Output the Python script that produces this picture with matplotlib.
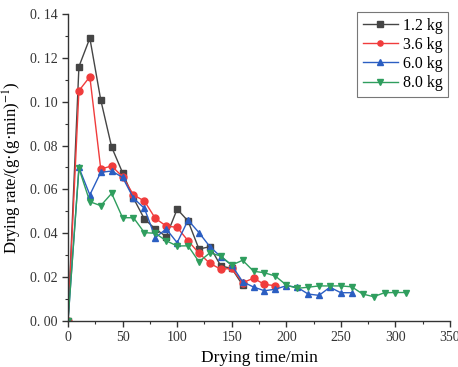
import matplotlib
matplotlib.use("Agg")
import matplotlib.pyplot as plt
from matplotlib.ticker import MultipleLocator, FuncFormatter

plt.rcParams['font.family'] = ['Liberation Serif', 'DejaVu Serif']
plt.rcParams['mathtext.fontset'] = 'stix'

t_12 = [0, 10, 20, 30, 40, 50, 60, 70, 80, 90, 100, 110, 120, 130, 140, 150, 160]
r_12 = [0.0, 0.116, 0.129, 0.1008, 0.0793, 0.0676, 0.056, 0.0465, 0.042, 0.0385,
        0.051, 0.0456, 0.0328, 0.0339, 0.0251, 0.024, 0.0164]

t_36 = [0, 10, 20, 30, 40, 50, 60, 70, 80, 90, 100, 110, 120, 130, 140, 150, 160, 170, 180, 190]
r_36 = [0.0, 0.105, 0.1114, 0.0693, 0.0707, 0.0658, 0.0575, 0.0547, 0.0468, 0.0433,
        0.0427, 0.0366, 0.0309, 0.0263, 0.0236, 0.024, 0.0175, 0.0195, 0.0167, 0.0161]

t_60 = [0, 10, 20, 30, 40, 50, 60, 70, 80, 90, 100, 110, 120, 130, 140, 150, 160, 170,
        180, 190, 200, 210, 220, 230, 240, 250, 260]
r_60 = [0.0, 0.070, 0.0575, 0.0678, 0.0684, 0.0655, 0.056, 0.0514, 0.038, 0.042,
        0.0357, 0.046, 0.0403, 0.0339, 0.0293, 0.0255, 0.0179, 0.0155, 0.0138, 0.0145,
        0.0161, 0.0154, 0.0123, 0.0117, 0.0154, 0.0129, 0.0129]

t_80 = [0, 10, 20, 30, 40, 50, 60, 70, 80, 90, 100, 110, 120, 130, 140, 150, 160, 170,
        180, 190, 200, 210, 220, 230, 240, 250, 260, 270, 280, 290, 300, 310]
r_80 = [0.0, 0.0696, 0.0544, 0.0526, 0.0582, 0.0471, 0.0471, 0.0403, 0.040, 0.0366,
        0.0342, 0.0343, 0.027, 0.0311, 0.0296, 0.0255, 0.0277, 0.0227, 0.022, 0.0205,
        0.0164, 0.0149, 0.0154, 0.016, 0.016, 0.016, 0.0156, 0.0123, 0.0111, 0.0129,
        0.013, 0.013]

labels = ['1.2 kg', '3.6 kg', '6.0 kg', '8.0 kg']
colors = ['#454545', '#f03c3c', '#2b5ec2', '#2f9e5e']
markers = ['s', 'o', '^', 'v']

fig = plt.figure(figsize=(4.58, 3.67), dpi=100)
ax = fig.add_axes([0.1485, 0.1253, 0.834, 0.8366])

series = [(t_12, r_12), (t_36, r_36), (t_60, r_60), (t_80, r_80)]
for (t, r), lab, c, m in zip(series, labels, colors, markers):
    ax.plot(t, r, color=c, marker=m, markersize=5.0, linewidth=1.0, label=lab)

ax.set_xlim(0, 350)
ax.set_ylim(0, 0.14)
ax.xaxis.set_major_locator(MultipleLocator(50))
ax.xaxis.set_minor_locator(MultipleLocator(25))
ax.yaxis.set_major_locator(MultipleLocator(0.02))
ax.yaxis.set_minor_locator(MultipleLocator(0.01))
ax.yaxis.set_major_formatter(FuncFormatter(lambda v, p: ("%.2f" % v).replace('.', '. ')))

for s in ['top', 'right']:
    ax.spines[s].set_visible(False)
for s in ['left', 'bottom']:
    ax.spines[s].set_linewidth(1.0)
    ax.spines[s].set_color('#333333')

ax.tick_params(which='major', direction='out', length=4, width=1, labelsize=10, colors='#333333')
ax.tick_params(which='minor', direction='out', length=2.5, width=0.8, colors='#333333')

ax.set_xlabel('Drying time/min', fontsize=12.5, labelpad=4)
ax.set_ylabel('Drying rate/(g·(g·min)$^{-1}$)', fontsize=12, labelpad=4)

leg = ax.legend(loc='upper right', fontsize=11.5, frameon=True, fancybox=False,
                edgecolor='#555555', handlelength=2.2, handletextpad=0.3,
                borderpad=0.35, labelspacing=0.2, markerscale=0.75,
                borderaxespad=0.0, bbox_to_anchor=(0.995, 1.0065))
leg.get_frame().set_linewidth(0.8)

fig.savefig('out.png', dpi=100)
